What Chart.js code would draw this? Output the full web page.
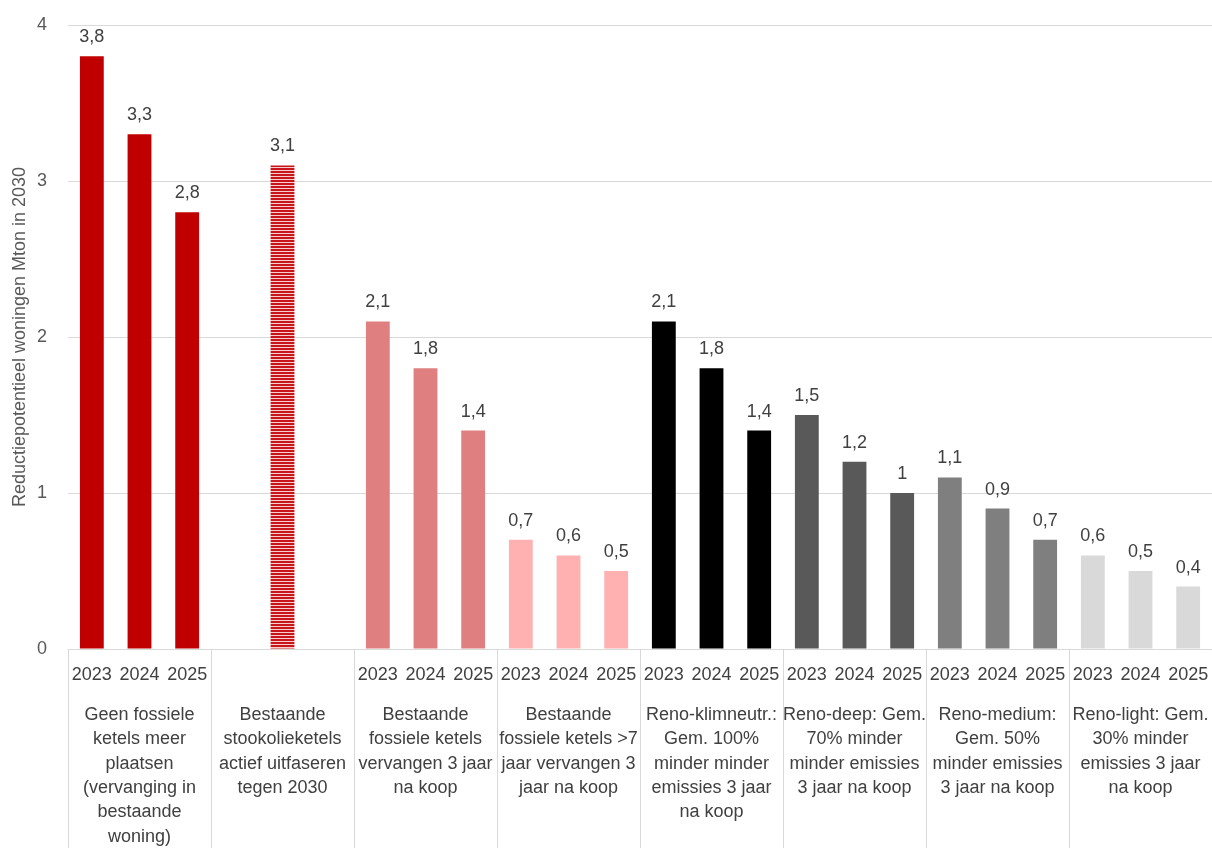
<!DOCTYPE html>
<html>
<head>
<meta charset="utf-8">
<script src="https://cdn.jsdelivr.net/npm/chart.js@4.4.1/dist/chart.umd.min.js"></script>
<style>
  html, body { margin: 0; padding: 0; background: #fff; }
  #wrap { width: 1212px; height: 848px; }
</style>
</head>
<body>
<div id="wrap"><canvas id="reductieChart"></canvas></div>
<script>
// === Gegevens ===
const jaren = [
  '2023', '2024', '2025',
  '', '', '',
  '2023', '2024', '2025',
  '2023', '2024', '2025',
  '2023', '2024', '2025',
  '2023', '2024', '2025',
  '2023', '2024', '2025',
  '2023', '2024', '2025'
];

const waarden = [
  3.8, 3.3, 2.8,
  null, 3.1, null,
  2.1, 1.8, 1.4,
  0.7, 0.6, 0.5,
  2.1, 1.8, 1.4,
  1.5, 1.2, 1.0,
  1.1, 0.9, 0.7,
  0.6, 0.5, 0.4
];

const groepen = [
  ['Geen fossiele', 'ketels meer', 'plaatsen', '(vervanging in', 'bestaande', 'woning)'],
  ['Bestaande', 'stookolieketels', 'actief uitfaseren', 'tegen 2030'],
  ['Bestaande', 'fossiele ketels', 'vervangen 3 jaar', 'na koop'],
  ['Bestaande', 'fossiele ketels >7', 'jaar vervangen 3', 'jaar na koop'],
  ['Reno-klimneutr.:', 'Gem. 100%', 'minder minder', 'emissies 3 jaar', 'na koop'],
  ['Reno-deep: Gem.', '70% minder', 'minder emissies', '3 jaar na koop'],
  ['Reno-medium:', 'Gem. 50%', 'minder emissies', '3 jaar na koop'],
  ['Reno-light: Gem.', '30% minder', 'emissies 3 jaar', 'na koop']
];

const yTicks = [0, 1, 2, 3, 4];

const lettertype = "'Liberation Sans', Arial, sans-serif";
const tekstKleur = '#404040';

// === Gestreepte vulling voor stookolieketels ===
function streepPatroon() {
  const c = document.createElement('canvas');
  c.width = 4;
  c.height = 3;
  const p = c.getContext('2d');
  p.fillStyle = '#F6CDCD';
  p.fillRect(0, 0, 4, 3);
  p.fillStyle = '#C8141A';
  p.fillRect(0, 0, 4, 2);
  return p.createPattern(c, 'repeat');
}

const groepKleuren = ['#C00000', streepPatroon(), '#DF7F7F', '#FFB1B1', '#000000', '#595959', '#7F7F7F', '#D9D9D9'];
const barKleuren = waarden.map((_, i) => groepKleuren[Math.floor(i / 3)]);

// === Waarden boven de staven ===
const waardeLabels = {
  id: 'waardeLabels',
  afterDatasetsDraw(chart) {
    const { ctx } = chart;
    const meta = chart.getDatasetMeta(0);
    ctx.save();
    ctx.font = `18px ${lettertype}`;
    ctx.fillStyle = tekstKleur;
    ctx.textAlign = 'center';
    ctx.textBaseline = 'middle';
    meta.data.forEach((bar, i) => {
      const v = waarden[i];
      if (v === null) return;
      ctx.fillText(String(v).replace('.', ','), bar.x, bar.y - 19);
    });
    ctx.restore();
  }
};

// === Scheidingslijnen tussen de groepen ===
const groepLijnen = {
  id: 'groepLijnen',
  afterDraw(chart) {
    const x = chart.scales.x;
    const { ctx } = chart;
    ctx.save();
    ctx.strokeStyle = '#D9D9D9';
    ctx.lineWidth = 1;
    ctx.beginPath();
    for (let g = 0; g < groepen.length; g++) {
      const px = g === 0 ? x.left : (x.getPixelForValue(g * 3 - 1) + x.getPixelForValue(g * 3)) / 2;
      const lx = Math.round(px) + 0.5;
      ctx.moveTo(lx, x.top);
      ctx.lineTo(lx, chart.height);
    }
    ctx.stroke();
    ctx.restore();
  }
};

const ctx = document.getElementById('reductieChart').getContext('2d');

new Chart(ctx, {
  type: 'bar',
  data: {
    labels: jaren,
    datasets: [{
      label: 'Reductiepotentieel',
      data: waarden,
      backgroundColor: barKleuren,
      borderWidth: 0,
      categoryPercentage: 1,
      barPercentage: 0.5
    }]
  },
  options: {
    responsive: true,
    maintainAspectRatio: false,
    animation: false,
    layout: { padding: { top: 25, right: 0, bottom: 0, left: 0 } },
    plugins: {
      legend: { display: false },
      tooltip: { enabled: false }
    },
    scales: {
      y: {
        min: 0,
        max: 4,
        afterBuildTicks: s => { s.ticks = yTicks.map(v => ({ value: v })); },
        afterFit: s => { s.width = 68; s.paddingTop = 0; s.paddingBottom = 0; },
        border: { display: false },
        grid: { color: '#D9D9D9', drawTicks: false },
        ticks: {
          padding: 21,
          color: '#595959',
          font: { family: lettertype, size: 18 }
        },
        title: {
          display: true,
          text: 'Reductiepotentieel woningen Mton in 2030',
          color: '#595959',
          padding: { top: 9, bottom: 0 },
          font: { family: lettertype, size: 18 }
        }
      },
      x: {
        afterFit: s => { s.height = 50; s.paddingLeft = 0; s.paddingRight = 0; },
        border: { display: true, color: '#D9D9D9' },
        grid: { display: false, drawTicks: false },
        ticks: {
          padding: 15,
          autoSkip: false,
          maxRotation: 0,
          color: tekstKleur,
          font: { family: lettertype, size: 18 }
        }
      },
      x2: {
        type: 'category',
        position: 'bottom',
        labels: groepen,
        offset: true,
        afterFit: s => { s.height = 149; s.paddingLeft = 0; s.paddingRight = 0; },
        border: { display: false },
        grid: { display: false, drawTicks: false },
        ticks: {
          padding: 4,
          autoSkip: false,
          maxRotation: 0,
          color: tekstKleur,
          font: { family: lettertype, size: 18, lineHeight: 1.35 }
        }
      }
    }
  },
  plugins: [waardeLabels, groepLijnen]
});
</script>
</body>
</html>
